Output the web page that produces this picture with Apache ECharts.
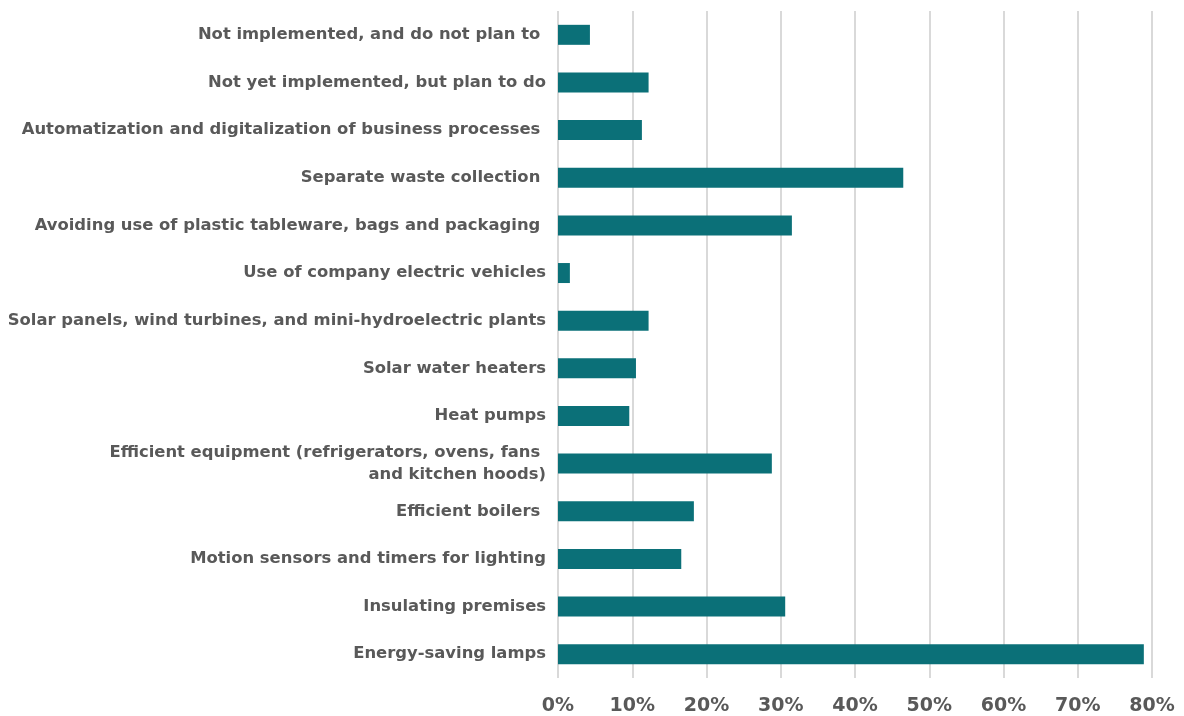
<!DOCTYPE html>
<html>
<head>
<meta charset="utf-8">
<script src="https://cdn.jsdelivr.net/npm/echarts@6/dist/echarts.min.js"></script>
<style>
  html, body { margin: 0; padding: 0; background: #ffffff; }
  #chart { width: 1184px; height: 716px; }
</style>
</head>
<body>
<div id="chart"></div>
<script>
// Measures taken, listed top to bottom
const categories = [
  'Not implemented, and do not plan to ',
  'Not yet implemented, but plan to do',
  'Automatization and digitalization of business processes ',
  'Separate waste collection ',
  'Avoiding use of plastic tableware, bags and packaging ',
  'Use of company electric vehicles',
  'Solar panels, wind turbines, and mini-hydroelectric plants',
  'Solar water heaters',
  'Heat pumps',
  'Efficient equipment (refrigerators, ovens, fans \nand kitchen hoods)',
  'Efficient boilers ',
  'Motion sensors and timers for lighting',
  'Insulating premises',
  'Energy-saving lamps'
];

// Share of respondents, %
const shares = [4.3, 12.2, 11.3, 46.5, 31.5, 1.6, 12.2, 10.5, 9.6, 28.8, 18.3, 16.6, 30.6, 78.9];

// X axis tick values, %
const xTicks = [0, 10, 20, 30, 40, 50, 60, 70, 80];

const chart = echarts.init(document.getElementById('chart'));
const labelColor = '#595959';

chart.setOption({
  animation: false,
  grid: { left: 558, right: 32, top: 11, bottom: 37, containLabel: false },
  xAxis: {
    type: 'value',
    min: xTicks[0],
    max: xTicks[xTicks.length - 1],
    interval: xTicks[1] - xTicks[0],
    axisLine: { show: false },
    axisTick: { show: false },
    splitLine: { show: true, lineStyle: { color: '#d9d9d9', width: 2 } },
    axisLabel: {
      formatter: '{value}%',
      color: labelColor,
      fontFamily: 'DejaVu Sans',
      fontWeight: 'bold',
      fontSize: 19,
      margin: 19
    }
  },
  yAxis: {
    type: 'category',
    inverse: true,
    data: categories,
    axisLine: { show: false },
    axisTick: { show: false },
    axisLabel: {
      color: labelColor,
      fontFamily: 'DejaVu Sans',
      fontWeight: 'bold',
      fontSize: 16.4,
      lineHeight: 22,
      margin: 12,
      align: 'right'
    }
  },
  series: [{
    type: 'bar',
    data: shares,
    barWidth: 20,
    itemStyle: { color: '#0b7078' }
  }]
});
</script>
</body>
</html>
